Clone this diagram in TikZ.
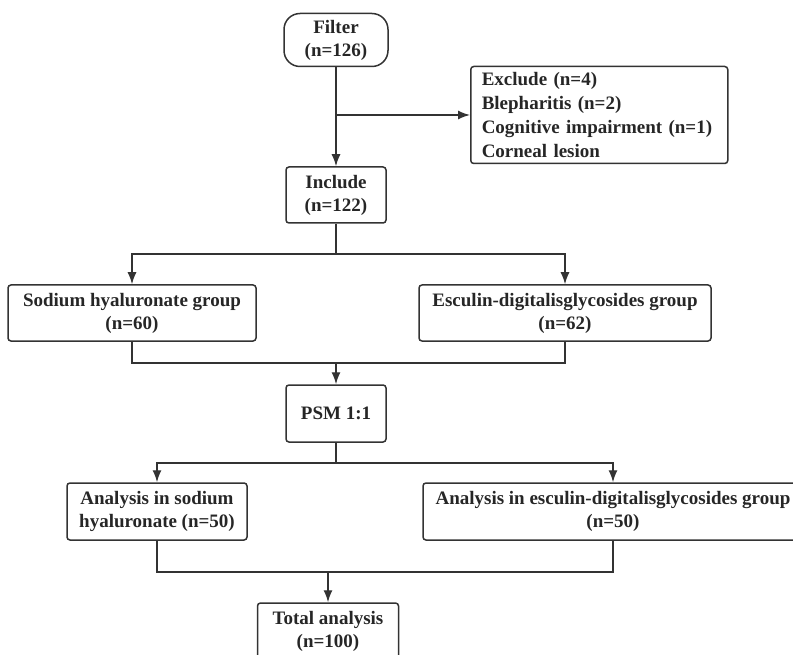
\documentclass[tikz,border=0pt]{standalone}
\usepackage{fontspec}
\setmainfont{Liberation Serif}
\usetikzlibrary{arrows.meta,positioning}
\tikzset{every node/.append style={font=\fontsize{19}{23}\selectfont\bfseries, text=black!85}}
\tikzset{box/.style={draw=black!80, line width=1.5pt, rounded corners=3pt, align=center, inner sep=0pt}}
\tikzset{arr/.style={-{Latex[length=12pt,width=9pt]}}}

\begin{document}
\begin{tikzpicture}[x=1pt,y=-1pt, line width=1.4pt, draw=black!80]
  \useasboundingbox (0,0) rectangle (793,655);

  \node[box, rounded corners=16pt, minimum width=104pt, minimum height=53pt] (filter) at (336,40) {Filter\\(n=126)};
  \node[box, align=left, anchor=west, minimum width=257pt, minimum height=97pt, text width=235pt, inner xsep=11pt,
    font=\fontsize{19}{23.7}\selectfont\bfseries] (exclude) at (470,115)
    {Exclude (n=4)\\Blepharitis (n=2)\\Cognitive impairment (n=1)\\Corneal lesion};
  \node[box, minimum width=100pt, minimum height=56pt] (include) at (336,195) {Include\\(n=122)};

  \node[box, minimum width=248pt, minimum height=56pt] (sodium) at (132,313) {Sodium hyaluronate group\\(n=60)};
  \node[box, minimum width=292pt, minimum height=56pt] (esculin) at (565,313) {Esculin-digitalisglycosides group\\(n=62)};

  \node[box, minimum width=100pt, minimum height=57pt] (psm) at (336,413.5) {PSM 1:1};

  \node[box, minimum width=180pt, minimum height=57pt] (anasod) at (157,511.5) {Analysis in sodium\\hyaluronate (n=50)};
  \node[box, minimum width=380pt, minimum height=57pt] (anaesc) at (613,511.5) {Analysis in esculin-digitalisglycosides group\\(n=50)};

  \node[box, minimum width=141pt, minimum height=57pt] (total) at (328,631.5) {Total analysis\\(n=100)};

  % connectors
  \draw[arr] (filter.south) -- (include.north);
  \draw[arr] (filter.south |- exclude.west) -- (exclude.west);

  \coordinate (split1) at (336,254);
  \draw (include.south) -- (split1);
  \draw[arr] (split1) -| (sodium.north);
  \draw[arr] (split1) -| (esculin.north);

  \coordinate (join1) at (336,363);
  \draw (sodium.south) |- (join1) -| (esculin.south);
  \draw[arr] (join1) -- (psm.north);

  \coordinate (split2) at (336,463);
  \draw (psm.south) -- (split2);
  \draw[arr] (split2) -| (anasod.north);
  \draw[arr] (split2) -| (anaesc.north);

  \coordinate (join2) at (328,572);
  \draw (anasod.south) |- (join2) -| (anaesc.south);
  \draw[arr] (join2) -- (total.north);
\end{tikzpicture}
\end{document}
